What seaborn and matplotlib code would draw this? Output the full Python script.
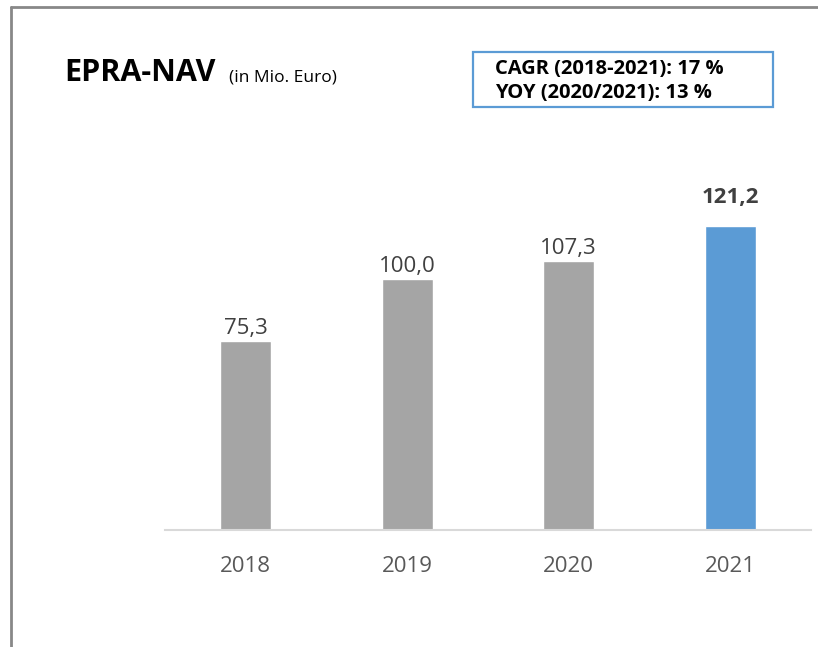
import matplotlib
matplotlib.use("Agg")
import matplotlib.pyplot as plt
from matplotlib.lines import Line2D
from matplotlib.patches import Rectangle
import seaborn as sns
import pandas as pd

# data
years = ["2018", "2019", "2020", "2021"]
nav = [75.3, 100.0, 107.3, 121.2]
labels = ["75,3", "100,0", "107,3", "121,2"]
bar_colors = ["#A5A5A5", "#A5A5A5", "#A5A5A5", "#5B9BD5"]

sns.set_theme(style="white")
plt.rcParams['font.family'] = ['Open Sans', 'DejaVu Sans']

W, H = 818, 647
fig = plt.figure(figsize=(W / 100, H / 100), dpi=100)
fig.patch.set_facecolor("white")

# axes placed in pixel terms
left, right, base, top = 165, 811, 530, 179
ax = fig.add_axes([left / W, (H - base) / H, (right - left) / W, (base - top) / H])

df = pd.DataFrame({"year": years, "nav": nav})
sns.barplot(data=df, x="year", y="nav", hue="year", palette=dict(zip(years, bar_colors)),
            width=0.316, saturation=1, legend=False, ax=ax)
ax.set_xlim(-0.5, 3.5)
ax.set_ylim(0, 140)
ax.set_xlabel("")
ax.set_ylabel("")
ax.set_yticks([])
for s in ["left", "right", "top"]:
    ax.spines[s].set_visible(False)
ax.spines["bottom"].set_color("#D9D9D9")
ax.spines["bottom"].set_linewidth(1.5)
ax.tick_params(axis="x", length=0, pad=19, labelsize=16, labelcolor="#595959")

for i, (v, lab) in enumerate(zip(nav, labels)):
    last = i == len(nav) - 1
    ax.annotate(lab, (i, v), xytext=(0, 17 if last else 5), textcoords="offset points",
                ha="center", va="baseline", fontsize=16,
                fontweight="bold" if last else "normal", color="#404040")

# title
fig.text(64 / W, 1 - 81 / H, "EPRA-NAV", fontsize=22, fontweight="bold", color="black",
         ha="left", va="baseline")
fig.text(229 / W, 1 - 81 / H, "(in Mio. Euro)", fontsize=12.5, color="black",
         ha="left", va="baseline")

# info box
fig.add_artist(Rectangle((473 / W, 1 - 107 / H), 300 / W, 55 / H, transform=fig.transFigure,
                         facecolor="white", edgecolor="#5B9BD5", linewidth=1.6))
fig.text(495 / W, 1 - 74 / H, "CAGR (2018-2021): 17 %", fontsize=14.5, fontweight="bold",
         color="black", ha="left", va="baseline")
fig.text(495 / W, 1 - 98 / H, "YOY (2020/2021): 13 %", fontsize=14.5, fontweight="bold",
         color="black", ha="left", va="baseline")

# outer frame (left + top)
fig.add_artist(Line2D([11 / W, 11 / W], [0, 1 - 7 / H], transform=fig.transFigure,
                      color="#888888", linewidth=2))
fig.add_artist(Line2D([11 / W, 1], [1 - 7 / H, 1 - 7 / H], transform=fig.transFigure,
                      color="#888888", linewidth=2))

fig.savefig("out.png", dpi=100)
